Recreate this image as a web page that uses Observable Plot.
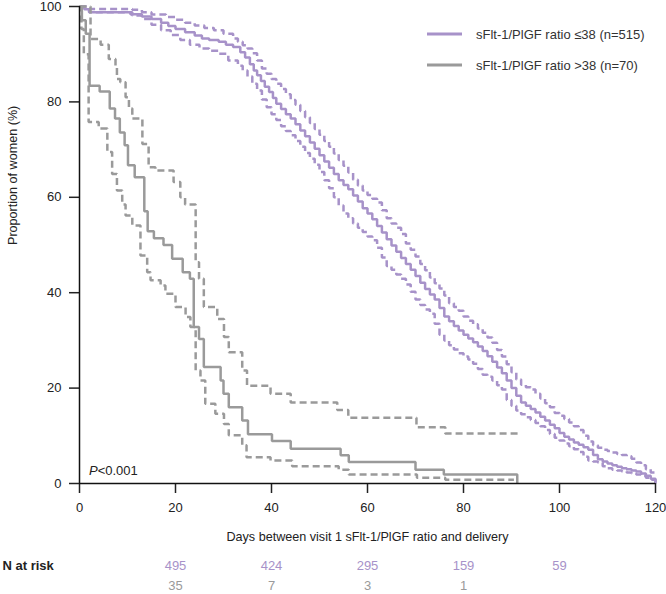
<!DOCTYPE html>
<html>
<head>
<meta charset="utf-8">
<script src="https://cdn.jsdelivr.net/npm/d3@7"></script>
<script src="https://cdn.jsdelivr.net/npm/@observablehq/plot@0.6"></script>
<style>
  html, body { margin: 0; padding: 0; background: #fff; }
  #chart { width: 666px; height: 594px; }
</style>
</head>
<body>
<div id="chart"></div>
<script>
// ---------- data ----------
const xTicks = [0, 20, 40, 60, 80, 100, 120];
const yTicks = [0, 20, 40, 60, 80, 100];

const seriesLabels = ["sFlt-1/PlGF ratio \u226438 (n=515)", "sFlt-1/PlGF ratio >38 (n=70)"];
const seriesColors = ["#a792c9", "#9a9a9a"];

// ratio <=38 : Kaplan-Meier estimate [day, %]
const lowEst = [[0,100],[1,99.4],[2,98.8],[10.6,98.4],[13,97.9],[15,97.4],[17,96.6],[18.5,95.9],[20,95.3],[22,94.6],[24,93.9],[25.5,93.3],[27,93.0],[29,92.6],[30.5,92.0],[32,91.5],[33.5,90.4],[34.5,89.3],[35.5,87.9],[36.3,86.6],[37,85.6],[37.8,84.4],[38.6,83.2],[39.5,82.1],[40.3,80.8],[41,79.6],[42,78.5],[43,77.4],[44,76.5],[45,75.3],[46,74.0],[47,72.8],[48,71.5],[49,70.2],[50,68.8],[51,67.5],[52,66.2],[53,64.9],[54,63.6],[55,62.6],[56,61.7],[57,60.4],[58,59.1],[59,57.7],[60,56.6],[61,55.4],[62,54.0],[63,52.6],[64,51.2],[65,49.9],[66,48.6],[67,47.3],[68,46.0],[69,44.8],[70,43.5],[71,42.1],[72,40.8],[73,39.6],[74,38.6],[75,36.8],[76,35.0],[77,34.0],[78,33.0],[79,32.1],[80,31.2],[81,30.4],[82,29.6],[83,28.7],[84,27.8],[85,26.7],[86,25.5],[87,24.3],[88,23.1],[89,21.6],[90,20.0],[91,18.4],[92,17.0],[93,16.3],[94,15.6],[95,14.9],[96,14.0],[97,13.2],[98,12.3],[99,11.6],[100,10.6],[101,9.8],[102,9.2],[103,8.6],[104,8.1],[105,7.6],[106,7.1],[107,6.0],[108,5.1],[109,4.6],[110,4.2],[111,3.8],[112,3.5],[113,3.2],[114,3.0],[115,2.7],[116,2.5],[117,2.1],[118,1.6],[119,1.0],[120,0]];
// ratio <=38 : upper 95% CI
const lowUpper = [[0,100],[2,99.5],[11,99.3],[13,98.8],[15,98.3],[18,97.8],[20,97.2],[22,96.6],[24,96.0],[26,95.5],[28,95.0],[30,94.3],[32,93.3],[33,92.6],[34,91.9],[35,91.2],[36,90.2],[37,88.7],[38,87.0],[39,85.9],[40,84.8],[41,83.8],[42,82.7],[43,81.6],[44,80.4],[45,79.4],[46,78.1],[47,76.8],[48,75.6],[49,74.3],[50,73.1],[51,71.8],[52,70.6],[53,69.2],[54,67.8],[55,66.6],[56,65.2],[57,63.7],[58,62.5],[59,61.4],[60,60.5],[61,59.7],[62,58.9],[63,57.3],[64,55.6],[65,54.5],[66,53.6],[67,52.3],[68,50.3],[69,49.0],[70,47.6],[71,46.0],[72,44.7],[73,43.2],[74,42.0],[75,40.9],[76,39.4],[77,37.8],[78,37.0],[79,36.2],[80,35.0],[81,34.1],[82,33.4],[83,32.5],[84,31.6],[85,30.6],[86,29.5],[87,28.0],[88,26.6],[89,25.0],[90,23.3],[91,21.8],[92,20.7],[93,20.2],[94,19.7],[95,18.8],[96,17.8],[97,16.8],[98,16.0],[99,14.8],[100,14.2],[101,13.5],[102,12.8],[103,12.0],[104,11.2],[105,10.0],[106,8.8],[107,8.0],[108,7.5],[109,7.1],[110,6.8],[111,6.5],[112,6.2],[113,6.0],[114,5.7],[115,5.2],[116,4.4],[117,3.8],[118,3.0],[119,2.3],[120,1.7]];
// ratio <=38 : lower 95% CI
const lowLower = [[0,100],[2,98.8],[11,98.1],[13,97.4],[15,96.2],[17,95.0],[19,94.0],[21,93.0],[23,92.0],[25,91.2],[27,90.7],[29,90.1],[31,88.7],[33,87.6],[34,86.6],[35,85.3],[36,83.8],[37,82.4],[38,80.5],[39,78.9],[40,77.4],[41,76.2],[42,74.9],[43,73.9],[44,73.0],[45,71.8],[46,70.6],[47,69.3],[48,68.1],[49,66.8],[50,65.3],[51,63.6],[52,61.9],[53,60.0],[54,58.3],[55,56.6],[56,55.6],[57,54.5],[58,53.6],[59,52.7],[60,51.8],[61,51.0],[62,49.4],[63,47.4],[64,45.6],[65,44.8],[66,43.8],[67,42.9],[68,41.7],[69,40.2],[70,38.6],[71,37.4],[72,36.5],[73,35.6],[74,33.5],[75,31.2],[76,30.0],[77,29.0],[78,28.1],[79,27.3],[80,26.6],[81,26.0],[82,25.1],[83,24.0],[84,22.8],[85,22.4],[86,21.6],[87,20.6],[88,19.7],[89,17.5],[90,16.3],[91,15.3],[92,14.5],[93,13.9],[94,13.3],[95,12.7],[96,12.0],[97,11.2],[98,10.4],[99,9.6],[100,9.0],[101,8.4],[102,7.8],[103,7.2],[104,6.6],[105,5.6],[106,4.8],[107,4.6],[108,4.4],[109,3.6],[110,3.2],[111,2.9],[112,2.7],[113,2.5],[114,2.3],[115,2.1],[116,1.9],[117,1.6],[118,1.2],[119,0.8],[120,0]];

// ratio >38 : Kaplan-Meier estimate
const highEst = [[0,100],[0.5,97.1],[1.3,94.3],[2.1,83.4],[4.2,82.2],[6.3,78.6],[7.4,76.5],[8.4,73.6],[9.4,70.9],[10.1,66.7],[11.5,64.2],[13.5,57.1],[14.2,52.9],[15.5,51.4],[17.5,50.0],[19.3,47.1],[21.5,44.3],[23.0,42.9],[23.8,32.8],[24.9,30.3],[25.9,24.4],[29.4,21.6],[30.0,18.8],[31.1,16.0],[33.9,13.2],[35.1,10.3],[40.1,8.9],[44.0,7.3],[54.4,5.9],[56.1,4.5],[70.0,2.9],[75.9,1.9],[91.2,0]];
// ratio >38 : upper 95% CI
const highUpper = [[0,100],[2.3,93.2],[4.4,92.0],[6.1,89.0],[7.5,87.6],[7.8,84.8],[8.5,84.1],[9.6,81.0],[10.3,78.6],[11.0,76.5],[13.1,71.2],[14.4,66.3],[15.8,65.6],[19.6,63.2],[21.0,60.0],[22.0,58.5],[24.2,46.4],[24.9,42.9],[25.9,37.0],[28.7,34.5],[30.1,30.7],[31.1,27.5],[33.9,23.7],[34.9,20.5],[39.8,18.8],[44.0,17.0],[53.7,15.4],[56.0,13.8],[70.2,11.8],[76.2,10.5],[91.4,10.5]];
// ratio >38 : lower 95% CI
const highLower = [[0,100],[0.4,95.3],[0.9,90.0],[1.9,75.8],[4.0,74.4],[5.8,69.5],[6.8,64.9],[7.8,61.4],[8.9,58.5],[9.6,56.2],[11.0,54.1],[12.7,47.8],[14.1,44.3],[14.8,42.6],[16.9,41.5],[17.9,39.8],[20.0,37.0],[22.1,34.9],[23.1,32.8],[24.2,23.7],[25.2,21.6],[26.2,16.7],[28.3,14.6],[30.1,12.5],[31.1,10.1],[33.9,8.0],[34.8,5.5],[39.8,4.8],[44.3,3.6],[54.0,2.9],[56.1,1.9],[70.3,1.2],[76.2,0.8],[90.5,0.8]];

// numbers at risk
const riskDays = [20, 40, 60, 80, 100];
const riskLow = [495, 424, 295, 159, 59];
const riskHigh = [35, 7, 3, 1];

const pText = "<0.001";
const xLabel = "Days between visit 1 sFlt-1/PlGF ratio and delivery";
const yLabel = "Proportion of women (%)";

// ---------- chart ----------
const purple = seriesColors[0], grey = seriesColors[1];
const font = "'Liberation Sans', Arial, Helvetica, sans-serif";
const sw = 2.5, dash = "7,4";

const lineOf = (data, color, dashed) => Plot.line(data, {
  x: d => d[0], y: d => d[1], curve: "step-after",
  stroke: color, strokeWidth: sw, strokeDasharray: dashed ? dash : null,
  strokeLinejoin: "miter", strokeLinecap: "butt"
});

const riskLowData = riskLow.map((n, i) => ({day: riskDays[i], n}));
const riskHighData = riskHigh.map((n, i) => ({day: riskDays[i], n}));

function legendMark(index, scales, values, dims) {
  const g = d3.create("svg:g").attr("font-family", font).attr("font-size", 13).attr("text-anchor", "start");
  const x0 = 427, ys = [34, 65];
  seriesLabels.forEach((lab, i) => {
    g.append("line").attr("x1", x0).attr("x2", x0 + 35).attr("y1", ys[i]).attr("y2", ys[i])
      .attr("stroke", seriesColors[i]).attr("stroke-width", 3);
    g.append("text").attr("x", x0 + 49).attr("y", ys[i]).attr("dy", "0.35em")
      .attr("text-anchor", "start").attr("fill", "#333").text(lab);
  });
  return g.node();
}

function pMark(index, scales, values, dims) {
  const t = d3.create("svg:text").attr("font-family", font).attr("font-size", 13)
    .attr("text-anchor", "start")
    .attr("fill", "#222").attr("x", scales.x(0) + 10).attr("y", dims.height - dims.marginBottom - 8);
  t.append("tspan").attr("font-style", "italic").text("P");
  t.append("tspan").text(pText);
  return t.node();
}

const chart = Plot.plot({
  width: 666, height: 594,
  marginLeft: 79, marginRight: 11, marginTop: 6, marginBottom: 111,
  x: {domain: [0, 120]},
  y: {domain: [0, 100]},
  style: {fontFamily: font, fontSize: "13px", color: "#222", background: "#fff", overflow: "visible"},
  marks: [
    lineOf(lowUpper, purple, true),
    lineOf(lowLower, purple, true),
    lineOf(lowEst, purple, false),
    lineOf(highUpper, grey, true),
    lineOf(highLower, grey, true),
    lineOf(highEst, grey, false),
    Plot.axisX({ticks: xTicks, tickSize: 10, tickPadding: 9, label: null, strokeWidth: 1.5, fontSize: 13}),
    Plot.axisY({ticks: yTicks, tickSize: 10, tickPadding: 8, label: null, strokeWidth: 1.5, fontSize: 13}),
    Plot.ruleX([0], {stroke: "#111", strokeWidth: 1.5}),
    Plot.ruleY([0], {stroke: "#111", strokeWidth: 1.5}),
    Plot.text([xLabel], {frameAnchor: "bottom", dy: 57, fontSize: 12.6, fill: "#222"}),
    Plot.text([yLabel], {frameAnchor: "left", rotate: -90, dx: -67, fontSize: 12.6, fill: "#222"}),
    Plot.text(["N at risk"], {frameAnchor: "bottom-left", dx: -77, dy: 86, textAnchor: "start", fontWeight: "bold", fontSize: 13, fill: "#222"}),
    Plot.text(riskLowData, {x: "day", text: "n", frameAnchor: "bottom", dy: 86, fill: purple, fontSize: 13}),
    Plot.text(riskHighData, {x: "day", text: "n", frameAnchor: "bottom", dy: 106, fill: grey, fontSize: 13}),
    pMark,
    legendMark
  ]
});
document.getElementById("chart").appendChild(chart);
</script>
</body>
</html>
